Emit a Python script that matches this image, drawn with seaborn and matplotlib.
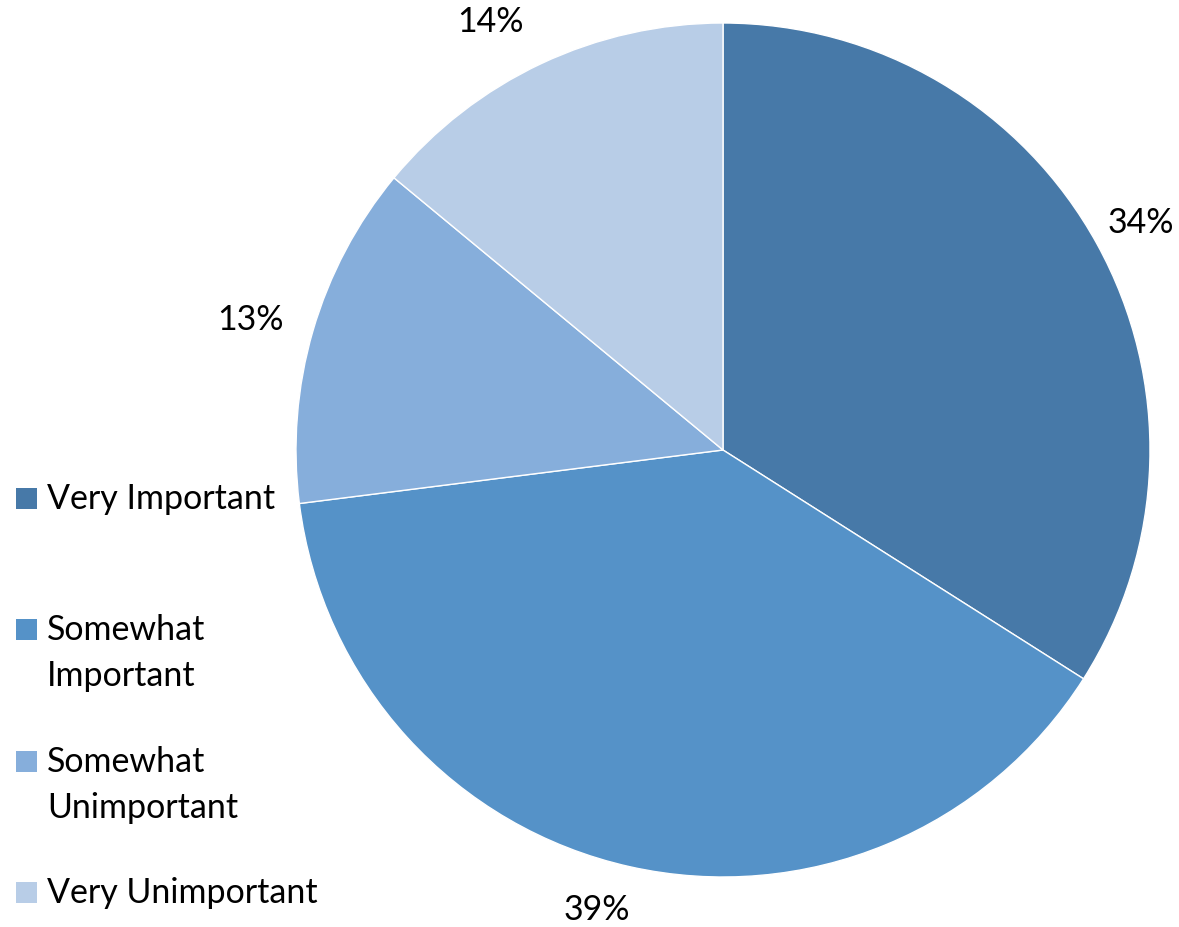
import numpy as np
import matplotlib
matplotlib.use("Agg")
import matplotlib.pyplot as plt
from matplotlib.patches import Rectangle
import seaborn as sns

# Survey responses
categories = ["Very Important", "Somewhat Important", "Somewhat Unimportant", "Very Unimportant"]
legend_labels = ["Very Important", "Somewhat\nImportant", "Somewhat\nUnimportant", "Very Unimportant"]
shares = [34, 39, 13, 14]
colors = ["#4779A8", "#5592C8", "#86AEDB", "#B8CDE7"]

sns.set_theme(style="white")
plt.rcParams["font.family"] = ["Lato", "DejaVu Sans"]

W, H = 1179, 927
fig = plt.figure(figsize=(W / 100, H / 100), dpi=100)
ax = fig.add_axes([0, 0, 1, 1])
ax.set_xlim(0, W)
ax.set_ylim(0, H)
ax.set_aspect("equal")
ax.axis("off")

cx, cy, r = 723, H - 450, 427
wedges, _ = ax.pie(shares, colors=sns.color_palette(colors), startangle=90,
                   counterclock=False, center=(cx, cy), radius=r,
                   wedgeprops=dict(edgecolor="white", linewidth=1))
ax.set_xlim(0, W)
ax.set_ylim(0, H)

# Percentage labels just outside each slice (radial distance, angular nudge in degrees)
label_dist = [1.114, 1.117, 1.149, 1.14]
label_nudge = [-0.3, -2.7, 0.8, 3.3]
fs = 24.5
for w, v, d, nd in zip(wedges, shares, label_dist, label_nudge):
    ang = np.deg2rad((w.theta1 + w.theta2) / 2 + nd)
    ax.text(cx + d * r * np.cos(ang), cy + d * r * np.sin(ang), f"{v}%",
            ha="center", va="center", fontsize=fs, color="black")

# Legend on the left
first_baselines = [509, 640, 772, 903]
line_gap = 46
for lab, col, yb in zip(legend_labels, colors, first_baselines):
    ax.add_patch(Rectangle((16, H - yb), 21, 21, facecolor=col, edgecolor="none"))
    for k, line in enumerate(lab.split("\n")):
        ax.text(47, H - (yb + k * line_gap), line, ha="left", va="baseline",
                fontsize=fs, color="black")

fig.savefig("out.png", dpi=100, facecolor="white")
